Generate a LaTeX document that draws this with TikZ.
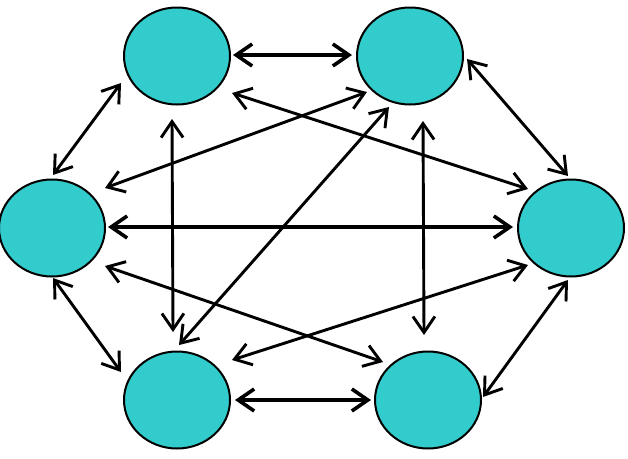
\documentclass[tikz,border=0pt]{standalone}
\usetikzlibrary{shapes.geometric,arrows.meta}
\definecolor{teal}{HTML}{33CCCC}
\begin{document}
\begin{tikzpicture}[x=1pt,y=-1pt,
  blob/.style={ellipse,draw=black,line width=2pt,fill=teal,minimum width=106pt,minimum height=97pt,inner sep=0pt},
  arr/.style={line width=2.9pt,{Straight Barb[length=16pt,width=22pt]}-{Straight Barb[length=16pt,width=22pt]}},
  arrh/.style={arr,line width=3.6pt}]
\useasboundingbox (0,0) rectangle (628,458);
\node[blob] (tl) at (177,56) {};
\node[blob] (tr) at (410,56) {};
\node[blob] (l) at (52,228) {};
\node[blob] (r) at (571,228) {};
\node[blob] (bl) at (177,400) {};
\node[blob] (br) at (428,400) {};
% horizontals
\draw[arrh] ([shift={(56,-1)}]tl.center) -- ([shift={(-58,-1)}]tr.center);
\draw[arrh] ([shift={(56,-1)}]l.center) -- ([shift={(-58,-1)}]r.center);
\draw[arrh] ([shift={(58,0)}]bl.center) -- ([shift={(-57,0)}]br.center);
% verticals
\draw[arr] ([shift={(-5,63)}]tl.center) -- ([shift={(-4,-68)}]bl.center);
\draw[arr] ([shift={(13,65)}]tr.center) -- ([shift={(-4,-65)}]br.center);
% outer diagonals
\draw[arr] ([shift={(-56,27)}]tl.center) -- ([shift={(1,-53)}]l.center);
\draw[arr] ([shift={(57,3)}]tr.center) -- ([shift={(-3,-52)}]r.center);
\draw[arr] ([shift={(1,50)}]l.center) -- ([shift={(-56,-28)}]bl.center);
\draw[arr] ([shift={(-3,52)}]r.center) -- ([shift={(55,-3)}]br.center);
% inner diagonals
\draw[arr] ([shift={(55,37)}]tl.center) -- ([shift={(-43,-39)}]r.center);
\draw[arr] ([shift={(-43,36)}]tr.center) -- ([shift={(53,-40)}]l.center);
\draw[arr] ([shift={(-21,51)}]tr.center) -- ([shift={(2,-55)}]bl.center);
\draw[arr] ([shift={(53,38)}]l.center) -- ([shift={(-45,-38)}]br.center);
\draw[arr] ([shift={(55,-40)}]bl.center) -- ([shift={(-43,37)}]r.center);
\end{tikzpicture}
\end{document}
